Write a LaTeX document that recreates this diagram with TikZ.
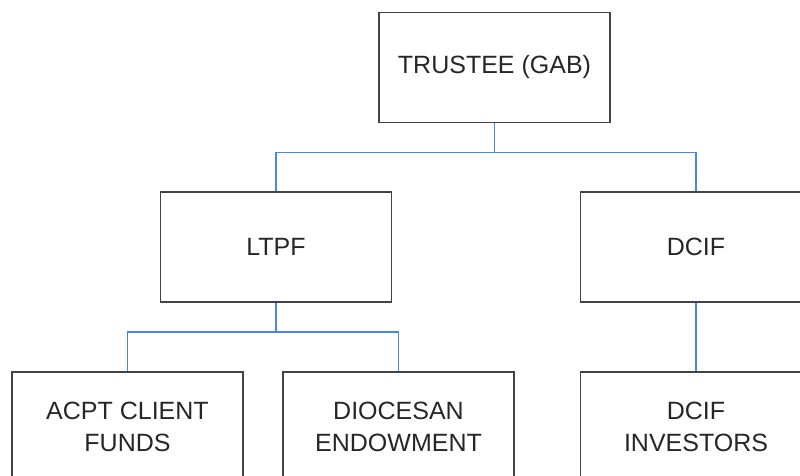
\documentclass[tikz,border=0pt]{standalone}
\usepackage{fontspec}
\setmainfont{Liberation Sans}
\usetikzlibrary{positioning}
\definecolor{linkblue}{HTML}{4A86E8}
\definecolor{boxgray}{HTML}{434343}

\begin{document}
\begin{tikzpicture}[x=1pt,y=-1pt,
  box/.style={draw=boxgray,line width=1.8pt,minimum width=231pt,minimum height=110pt,
    inner sep=0pt,align=center,text=black!85,font=\fontsize{25}{32}\selectfont},
  link/.style={draw=linkblue,line width=1.8pt}]
\clip (0,0) rectangle (800,476);
\node[box](trustee) at (494.5,67.5){TRUSTEE (GAB)};
\node[box](ltpf) at (276,247){LTPF};
\node[box](dcif) at (696,247){DCIF};
\node[box](acpt) at (127.5,427){ACPT CLIENT\\FUNDS};
\node[box](diocesan) at (398.5,427){DIOCESAN\\ENDOWMENT};
\node[box, below=68.2pt of dcif](investors){DCIF\\INVESTORS};
\draw[link] (trustee.south) -- ++(0,29) -| (ltpf.north);
\draw[link] (trustee.south) -- ++(0,29) -| (dcif.north);
\draw[link] (ltpf.south) -- ++(0,29) -| (acpt.north);
\draw[link] (ltpf.south) -- ++(0,29) -| (diocesan.north);
\draw[link] (dcif) -- (investors);
\end{tikzpicture}
\end{document}
